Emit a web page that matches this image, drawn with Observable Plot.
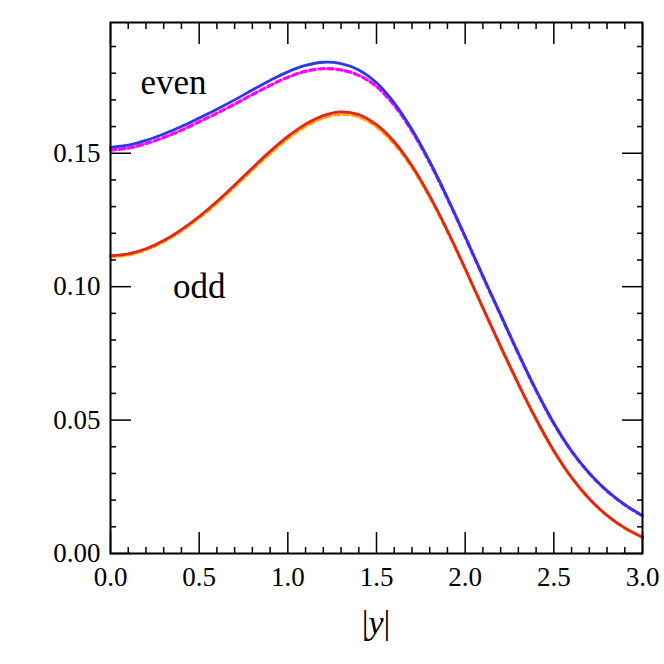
<!DOCTYPE html>
<html><head><meta charset="utf-8">
<script src="https://cdn.jsdelivr.net/npm/d3@7"></script>
<script src="https://cdn.jsdelivr.net/npm/@observablehq/plot@0.6"></script>
<style>body{margin:0;background:#fff}</style>
</head><body><div id="chart"></div>
<script>
const xs = [0.0,0.1,0.2,0.3,0.4,0.5,0.6,0.7,0.8,0.9,1.0,1.1,1.2,1.3,1.4,1.5,1.6,1.7,1.8,1.9,2.0,2.1,2.2,2.3,2.4,2.5,2.6,2.7,2.8,2.9,3.0];
const evenSolid = [0.1522,0.1530,0.1548,0.1572,0.1600,0.1632,0.1665,0.1700,0.1737,0.1773,0.1805,0.1829,0.1841,0.1836,0.1812,0.1764,0.1689,0.1589,0.1469,0.1333,0.1188,0.1040,0.0895,0.0750,0.0612,0.0488,0.0384,0.0301,0.0235,0.0183,0.0142];
const evenDashed = [0.1512,0.1519,0.1536,0.1559,0.1586,0.1618,0.1650,0.1684,0.1720,0.1754,0.1785,0.1807,0.1817,0.1812,0.1792,0.1750,0.1680,0.1583,0.1465,0.1330,0.1186,0.1038,0.0893,0.0749,0.0611,0.0487,0.0383,0.0300,0.0234,0.0182,0.0141];
const oddSolid = [0.1116,0.1123,0.1142,0.1173,0.1214,0.1263,0.1319,0.1381,0.1445,0.1507,0.1563,0.1609,0.1641,0.1655,0.1645,0.1607,0.1543,0.1453,0.1340,0.1210,0.1068,0.0921,0.0776,0.0636,0.0504,0.0385,0.0285,0.0205,0.0143,0.0096,0.0061];
const oddDashed = [0.1112,0.1119,0.1138,0.1169,0.1209,0.1258,0.1313,0.1375,0.1438,0.1499,0.1555,0.1601,0.1633,0.1646,0.1637,0.1599,0.1536,0.1447,0.1335,0.1206,0.1065,0.0919,0.0774,0.0634,0.0502,0.0383,0.0284,0.0204,0.0142,0.0095,0.0060];
const xMajor = [0, 0.5, 1.0, 1.5, 2.0, 2.5, 3.0];
const xMinor = [0.1,0.2,0.3,0.4,0.6,0.7,0.8,0.9,1.1,1.2,1.3,1.4,1.6,1.7,1.8,1.9,2.1,2.2,2.3,2.4,2.6,2.7,2.8,2.9];
const yMajor = [0, 0.05, 0.10, 0.15];
const yMinor = [0.01,0.02,0.03,0.04,0.06,0.07,0.08,0.09,0.11,0.12,0.13,0.14,0.16,0.17,0.18,0.19];
const labelText = ["even", "odd"];
const labelX = [0.355, 0.50];
const labelY = [0.1723, 0.0957];

const series = (vals) => xs.map((x, i) => ({x, y: vals[i]}));
const labels = labelText.map((t, i) => ({t, x: labelX[i], y: labelY[i]}));

const tickAxes = [];
for (const [ticks, size] of [[xMajor, -21], [xMinor, -6]]) {
  tickAxes.push(Plot.axisX({ticks, anchor: "bottom", tickSize: size, tickFormat: () => "", label: null, strokeWidth: 1.5}));
  tickAxes.push(Plot.axisX({ticks, anchor: "top", tickSize: size, tickFormat: () => "", label: null, strokeWidth: 1.5}));
}
for (const [ticks, size] of [[yMajor, -21], [yMinor, -6]]) {
  tickAxes.push(Plot.axisY({ticks, anchor: "left", tickSize: size, tickFormat: () => "", label: null, strokeWidth: 1.5}));
  tickAxes.push(Plot.axisY({ticks, anchor: "right", tickSize: size, tickFormat: () => "", label: null, strokeWidth: 1.5}));
}

const chart = Plot.plot({
  width: 664, height: 664,
  marginLeft: 110, marginRight: 22, marginTop: 22, marginBottom: 111,
  style: {fontFamily: "'Liberation Serif', 'Times New Roman', serif", fontSize: "27px", background: "#fff", color: "#000", overflow: "visible"},
  x: {domain: [0, 3]},
  y: {domain: [0, 0.199]},
  marks: [
    Plot.line(series(evenDashed), {x: "x", y: "y", stroke: "#ff00ff", strokeWidth: 3.2, strokeDasharray: "5.5,3.5", curve: "catmull-rom"}),
    Plot.line(series(oddDashed), {x: "x", y: "y", stroke: "#ffa500", strokeWidth: 3.2, strokeDasharray: "5.5,3.5", curve: "catmull-rom"}),
    Plot.line(series(evenSolid), {x: "x", y: "y", stroke: "#2a38e6", strokeWidth: 2.8, curve: "catmull-rom"}),
    Plot.line(series(oddSolid), {x: "x", y: "y", stroke: "#e0261e", strokeWidth: 2.8, curve: "catmull-rom"}),
    Plot.text(labels, {x: "x", y: "y", text: "t", fontSize: 35, textAnchor: "middle", lineAnchor: "bottom", fill: "#000"}),
    Plot.axisX({ticks: xMajor, anchor: "bottom", tickSize: 0, tickPadding: 13, tickFormat: d3.format(".1f"), label: null, fontSize: 27}),
    Plot.axisY({ticks: yMajor, anchor: "left", tickSize: 0, tickPadding: 10, tickFormat: d3.format(".2f"), label: null, fontSize: 27}),
    ...tickAxes,
    Plot.frame({stroke: "#000", strokeWidth: 2})
  ]
});

const svg = d3.select(chart);
const t = svg.append("text")
  .attr("x", 376).attr("y", 634)
  .attr("text-anchor", "middle")
  .attr("font-size", 34)
  .attr("fill", "#000");
t.append("tspan").text("|");
t.append("tspan").attr("font-style", "italic").text("y");
t.append("tspan").text("|");

document.getElementById("chart").appendChild(chart);
</script>
</body></html>
